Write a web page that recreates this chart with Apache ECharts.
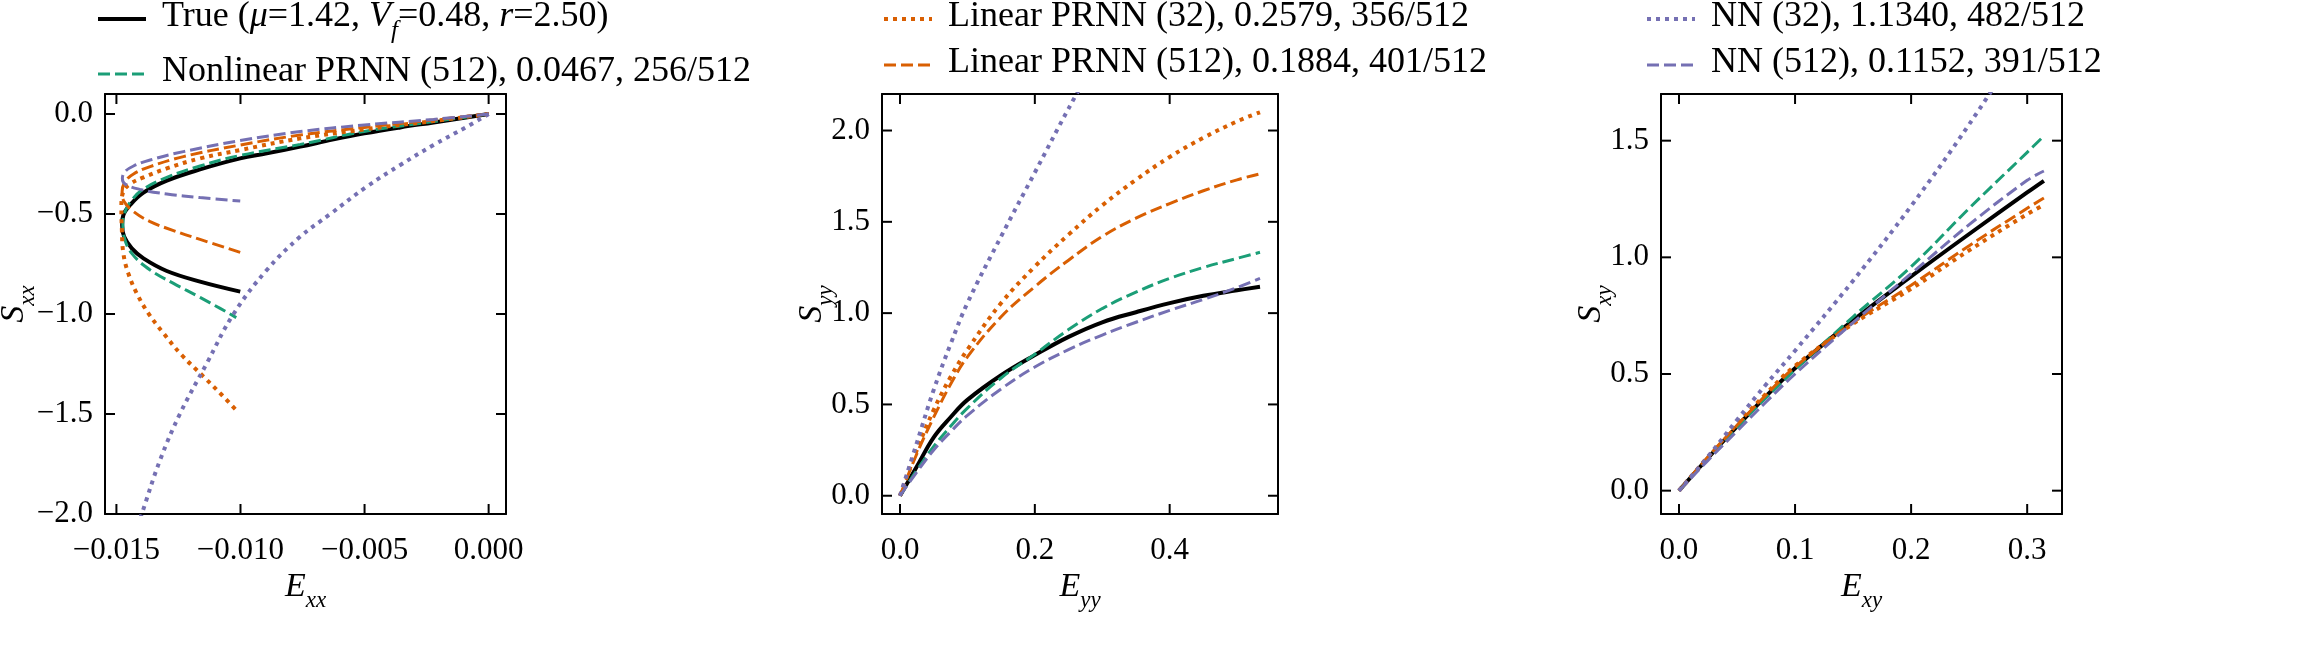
<!DOCTYPE html>
<html>
<head>
<meta charset="utf-8">
<script src="https://cdn.jsdelivr.net/npm/echarts@6/dist/echarts.min.js"></script>
<style>
  html, body { margin: 0; padding: 0; background: #fff; }
  #main { width: 2313px; height: 665px; }
</style>
</head>
<body>
<div id="main"></div>
<script>
// legend names, in plotting order
var names = [
  'True (μ=1.42, Vf=0.48, r=2.50)',
  'Nonlinear PRNN (512), 0.0467, 256/512',
  'Linear PRNN (32), 0.2579, 356/512',
  'Linear PRNN (512), 0.1884, 401/512',
  'NN (32), 1.1340, 482/512',
  'NN (512), 0.1152, 391/512'
];

// panel 1: E_xx vs S_xx (each curve has its own path)
var exxTrue = [0, -0.00222, -0.00356, -0.00501, -0.00625, -0.00759, -0.00894, -0.01001, -0.01163, -0.01297, -0.01391, -0.01445, -0.01472, -0.01477, -0.01469, -0.01438, -0.01391, -0.01297, -0.01163, -0.01001];
var sxxTrue = [0, -0.042, -0.067, -0.097, -0.127, -0.163, -0.197, -0.222, -0.277, -0.333, -0.393, -0.455, -0.505, -0.555, -0.613, -0.672, -0.722, -0.785, -0.838, -0.888];
var exxNl = [0, -0.00222, -0.00501, -0.00759, -0.01001, -0.01163, -0.01297, -0.01391, -0.01438, -0.01465, -0.01474, -0.01469, -0.01438, -0.01364, -0.0127, -0.01163, -0.01082, -0.01017];
var sxxNl = [0, -0.038, -0.087, -0.152, -0.207, -0.26, -0.317, -0.375, -0.43, -0.488, -0.547, -0.613, -0.697, -0.78, -0.847, -0.917, -0.972, -1.018];
var exxLin32 = [0, -0.00222, -0.00501, -0.00759, -0.01001, -0.01163, -0.01297, -0.01391, -0.01445, -0.01472, -0.0148, -0.01478, -0.01472, -0.01452, -0.01418, -0.01371, -0.0131, -0.01237, -0.01149, -0.01075, -0.01012];
var sxxLin32 = [0, -0.035, -0.077, -0.122, -0.18, -0.222, -0.272, -0.317, -0.35, -0.388, -0.463, -0.58, -0.697, -0.797, -0.897, -0.997, -1.097, -1.205, -1.313, -1.405, -1.488];
var exxLin512 = [0, -0.00222, -0.00501, -0.00759, -0.01001, -0.0123, -0.01364, -0.01431, -0.01465, -0.01477, -0.01469, -0.01431, -0.01364, -0.0127, -0.01163, -0.01001];
var sxxLin512 = [0, -0.03, -0.067, -0.105, -0.155, -0.213, -0.263, -0.3, -0.338, -0.388, -0.438, -0.488, -0.538, -0.583, -0.627, -0.692];
var exxNn32 = [0, -0.00087, -0.00222, -0.00356, -0.00491, -0.00638, -0.00759, -0.00894, -0.01028, -0.01136, -0.01243, -0.01324, -0.01398, -0.01425];
var sxxNn32 = [0, -0.063, -0.155, -0.255, -0.363, -0.5, -0.613, -0.78, -1.0, -1.247, -1.497, -1.73, -2.0, -2.097];
var exxNn512 = [0, -0.00222, -0.00501, -0.00759, -0.01001, -0.0123, -0.01364, -0.01431, -0.01465, -0.01476, -0.01465, -0.01405, -0.01297, -0.01163, -0.01001];
var sxxNn512 = [0, -0.027, -0.055, -0.088, -0.133, -0.188, -0.23, -0.26, -0.288, -0.322, -0.35, -0.377, -0.4, -0.418, -0.435];

// panel 2: E_yy vs S_yy
var eyy = [0, 0.025, 0.05, 0.075, 0.1, 0.15, 0.2, 0.25, 0.3, 0.35, 0.4, 0.45, 0.5, 0.534];
var syyTrue = [0, 0.16, 0.32, 0.43, 0.525, 0.66, 0.77, 0.87, 0.95, 1.005, 1.055, 1.095, 1.125, 1.145];
var syyNl = [0, 0.14, 0.27, 0.38, 0.48, 0.645, 0.775, 0.91, 1.025, 1.115, 1.19, 1.25, 1.3, 1.333];
var syyLin32 = [0, 0.25, 0.47, 0.65, 0.8, 1.055, 1.255, 1.43, 1.59, 1.73, 1.855, 1.96, 2.05, 2.1];
var syyLin512 = [0, 0.23, 0.43, 0.61, 0.76, 0.98, 1.145, 1.29, 1.42, 1.52, 1.6, 1.67, 1.73, 1.763];
var syyNn32 = [0, 0.29, 0.58, 0.83, 1.055, 1.42, 1.77, 2.12, 2.45];
var syyNn512 = [0, 0.13, 0.25, 0.35, 0.44, 0.585, 0.705, 0.8, 0.88, 0.95, 1.015, 1.075, 1.14, 1.19];

// panel 3: E_xy vs S_xy
var exy = [0, 0.025, 0.05, 0.075, 0.1, 0.15, 0.2, 0.25, 0.3, 0.3144];
var sxyTrue = [0, 0.14, 0.275, 0.405, 0.525, 0.73, 0.918, 1.1, 1.278, 1.328];
var sxyNl = [0, 0.14, 0.272, 0.398, 0.518, 0.745, 0.96, 1.21, 1.45, 1.52];
var sxyLin32 = [0, 0.145, 0.285, 0.415, 0.535, 0.715, 0.865, 1.03, 1.185, 1.225];
var sxyLin512 = [0, 0.145, 0.28, 0.41, 0.53, 0.72, 0.88, 1.05, 1.21, 1.254];
var sxyNn32 = [0, 0.146, 0.303, 0.455, 0.6, 0.9, 1.22, 1.57, 1.95];
var sxyNn512 = [0, 0.13, 0.255, 0.38, 0.5, 0.72, 0.93, 1.14, 1.33, 1.37];

// tick values
var exxTicks = [-0.015, -0.010, -0.005, 0];
var sxxTicks = [-2.0, -1.5, -1.0, -0.5, 0];
var eyyTicks = [0, 0.2, 0.4];
var syyTicks = [0, 0.5, 1.0, 1.5, 2.0];
var exyTicks = [0, 0.1, 0.2, 0.3];
var sxyTicks = [0, 0.5, 1.0, 1.5];

function zip(xs, ys) {
  var out = [];
  for (var i = 0; i < ys.length; i++) out.push([xs[i], ys[i]]);
  return out;
}

var FONT = 'Liberation Serif';
var green = '#1b9e77', orange = '#d95f02', purple = '#7570b3';
var styles = [
  { color: '#000', width: 4, type: 'solid' },
  { color: green, width: 3, type: [12, 5] },
  { color: orange, width: 4, type: [4, 5] },
  { color: orange, width: 3, type: [12, 5] },
  { color: purple, width: 4, type: [4, 5] },
  { color: purple, width: 3, type: [12, 5] }
];

var GRID_TOP = 94, GRID_H = 420, TICK = 10;
var panels = [
  { left: 105, width: 401, xmin: -0.01546, xmax: 0.0007, ymin: -2.0, ymax: 0.1,
    xt: exxTicks, yt: sxxTicks, xd: 3, xname: 'xx', yname: 'xx', ygap: 70,
    data: [zip(exxTrue, sxxTrue), zip(exxNl, sxxNl), zip(exxLin32, sxxLin32),
           zip(exxLin512, sxxLin512), zip(exxNn32, sxxNn32), zip(exxNn512, sxxNn512)] },
  { left: 882, width: 396, xmin: -0.0267, xmax: 0.5607, ymin: -0.1, ymax: 2.2,
    xt: eyyTicks, yt: syyTicks, xd: 1, xname: 'yy', yname: 'yy', ygap: 49,
    data: [zip(eyy, syyTrue), zip(eyy, syyNl), zip(eyy, syyLin32),
           zip(eyy, syyLin512), zip(eyy, syyNn32), zip(eyy, syyNn512)] },
  { left: 1661, width: 401, xmin: -0.0155, xmax: 0.330, ymin: -0.1, ymax: 1.70,
    xt: exyTicks, yt: sxyTicks, xd: 1, xname: 'xy', yname: 'xy', ygap: 49,
    data: [zip(exy, sxyTrue), zip(exy, sxyNl), zip(exy, sxyLin32),
           zip(exy, sxyLin512), zip(exy, sxyNn32), zip(exy, sxyNn512)] }
];

function fmt(v, d) { return v.toFixed(d).replace('-', '\u2212'); }

var nameRich = {
  i: { fontFamily: FONT, fontStyle: 'italic', fontSize: 34, lineHeight: 38, verticalAlign: 'top', color: '#000' },
  s: { fontFamily: FONT, fontStyle: 'italic', fontSize: 23, lineHeight: 23, verticalAlign: 'top', padding: [19, 0, 0, 0], color: '#000' }
};

var grids = [], xAxes = [], yAxes = [], series = [];
panels.forEach(function (p, k) {
  grids.push({ left: p.left, top: GRID_TOP, width: p.width, height: GRID_H, show: false,
    outerBoundsMode: 'none', containLabel: false });
  var line = { show: true, onZero: false, lineStyle: { color: '#000', width: 2 } };
  p.xi = xAxes.length;
  p.yi = yAxes.length;

  xAxes.push({ type: 'value', gridIndex: k, position: 'bottom', min: p.xmin, max: p.xmax,
    axisLine: line, splitLine: { show: false }, axisTick: { show: false },
    axisLabel: { customValues: p.xt, margin: 21, fontFamily: FONT, fontSize: 31, color: '#000',
      formatter: (function (d) { return function (v) { return fmt(v, d); }; })(p.xd) },
    name: '{i|E}{s|' + p.xname + '}', nameLocation: 'middle', nameGap: 56, nameMoveOverlap: false,
    nameTextStyle: { rich: nameRich } });
  xAxes.push({ type: 'value', gridIndex: k, position: 'top', min: p.xmin, max: p.xmax,
    axisLine: line, splitLine: { show: false }, axisLabel: { show: false }, axisTick: { show: false } });
  yAxes.push({ type: 'value', gridIndex: k, position: 'left', min: p.ymin, max: p.ymax,
    axisLine: line, splitLine: { show: false }, axisTick: { show: false },
    axisLabel: { customValues: p.yt, margin: 12, fontFamily: FONT, fontSize: 31, color: '#000',
      formatter: function (v) { return fmt(v, 1); } },
    name: '{i|S}{s|' + p.yname + '}', nameLocation: 'middle', nameGap: p.ygap, nameRotate: 90,
    nameMoveOverlap: false, nameTextStyle: { rich: nameRich } });
  yAxes.push({ type: 'value', gridIndex: k, position: 'right', min: p.ymin, max: p.ymax,
    axisLine: line, splitLine: { show: false }, axisLabel: { show: false }, axisTick: { show: false } });

  p.data.forEach(function (d, i) {
    series.push({ name: names[i], type: 'line', xAxisIndex: p.xi, yAxisIndex: p.yi,
      data: d, smooth: 0.4, symbol: 'none', clip: true,
      lineStyle: { color: styles[i].color, width: styles[i].width, type: styles[i].type },
      itemStyle: { color: styles[i].color } });
  });
});

var legRich = {
  t: { fontFamily: FONT, fontSize: 36, lineHeight: 40, verticalAlign: 'top', color: '#000' },
  m: { fontFamily: FONT, fontStyle: 'italic', fontSize: 36, lineHeight: 40, verticalAlign: 'top', color: '#000' },
  s: { fontFamily: FONT, fontStyle: 'italic', fontSize: 25, lineHeight: 25, verticalAlign: 'top', padding: [20, 0, 0, 0], color: '#000' }
};
function legFmt(name) {
  if (name === names[0]) {
    return '{t|True (}{m|μ}{t|=1.42, }{m|V}{s|f}{t|=0.48, }{m|r}{t|=2.50)}';
  }
  return '{t|' + name + '}';
}
function legItem(i) {
  return { name: names[i], lineStyle: { width: styles[i].width, type: styles[i].type, color: styles[i].color } };
}
function mkLegend(left, items) {
  return { left: left, top: -1, orient: 'vertical', padding: 0, itemGap: 10,
    itemWidth: 48, itemHeight: 40, selectedMode: false,
    itemStyle: { opacity: 0 },
    data: items, formatter: legFmt,
    textStyle: { fontFamily: FONT, fontSize: 36, color: '#000', padding: [0, 0, 0, 11], rich: legRich } };
}

var chart = echarts.init(document.getElementById('main'));
chart.setOption({
  animation: false,
  backgroundColor: '#fff',
  legend: [mkLegend(96, [legItem(0), legItem(1)]), mkLegend(882, [legItem(2), legItem(3)]), mkLegend(1645, [legItem(4), legItem(5)])],
  grid: grids,
  xAxis: xAxes,
  yAxis: yAxes,
  series: series
});

// inward ticks on all four sides (matplotlib direction='in'), placed through the axis scales
var tickLines = [];
function tickLine(x1, y1, x2, y2) {
  tickLines.push({ type: 'line', silent: true, z: 50,
    shape: { x1: x1, y1: y1, x2: x2, y2: y2 },
    style: { stroke: '#000', lineWidth: 2 } });
}
panels.forEach(function (p) {
  var top = GRID_TOP, bottom = GRID_TOP + GRID_H, left = p.left, right = p.left + p.width;
  p.xt.forEach(function (v) {
    var px = chart.convertToPixel({ xAxisIndex: p.xi }, v);
    tickLine(px, bottom, px, bottom - TICK);
    tickLine(px, top, px, top + TICK);
  });
  p.yt.forEach(function (v) {
    var py = chart.convertToPixel({ yAxisIndex: p.yi }, v);
    tickLine(left, py, left + TICK, py);
    tickLine(right, py, right - TICK, py);
  });
});
chart.setOption({ graphic: { elements: tickLines } });
</script>
</body>
</html>
